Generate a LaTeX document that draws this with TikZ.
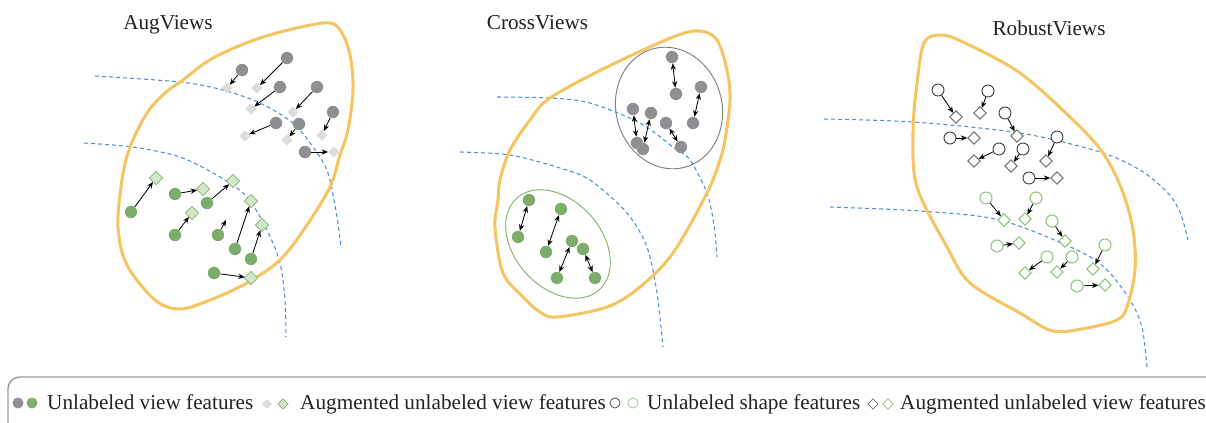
\documentclass[tikz,border=0pt]{standalone}
\usepackage{fontspec}
\setmainfont{Liberation Serif}
\usetikzlibrary{shapes.geometric,arrows.meta}
\definecolor{orng}{HTML}{F5C563}
\definecolor{bdash}{HTML}{4A90D9}
\definecolor{gcirc}{HTML}{8E8E93}
\definecolor{gdiam}{HTML}{DCDCDC}
\definecolor{grn}{HTML}{7DAD6B}
\definecolor{grnl}{HTML}{D3E7CC}
\definecolor{grnd}{HTML}{82B366}
\definecolor{grno}{HTML}{8BC47B}
\definecolor{txt}{HTML}{222222}
\begin{document}
\begin{tikzpicture}[x=0.03cm,y=-0.03cm,
 boundary/.style={draw=orng,line width=2.6pt},
 divide/.style={draw=bdash,line width=0.9pt,dash pattern=on 3.4pt off 2.6pt},
 gc/.style={circle,fill=gcirc,inner sep=0,minimum size=0.37cm},
 gd/.style={diamond,fill=gdiam,inner sep=0,minimum size=0.34cm},
 nc/.style={circle,fill=grn,inner sep=0,minimum size=0.37cm},
 nd/.style={diamond,fill=grnl,draw=grnd,line width=0.6pt,inner sep=0,minimum size=0.4cm},
 oc/.style={circle,draw=black!75,fill=white,line width=0.8pt,inner sep=0,minimum size=0.36cm},
 od/.style={diamond,draw=black!55,fill=white,line width=0.8pt,inner sep=0,minimum size=0.38cm},
 goc/.style={circle,draw=grno,fill=white,line width=0.9pt,inner sep=0,minimum size=0.36cm},
 god/.style={diamond,draw=grno,fill=white,line width=0.9pt,inner sep=0,minimum size=0.38cm},
 arr/.style={-{Stealth[length=5.5pt,width=4.5pt]},line width=0.7pt},
 darr/.style={{Stealth[length=5.5pt,width=4.5pt]}-{Stealth[length=5.5pt,width=4.5pt]},line width=0.7pt},
 ttl/.style={font=\fontsize{18.1}{20}\selectfont,text=txt,inner sep=0,anchor=base},
 lg/.style={font=\fontsize{18.1}{20}\selectfont,text=txt,inner sep=0,anchor=base west},
]
\useasboundingbox (0,0) rectangle (1206,423);
\clip (0,0) rectangle (1206,423);

% titles
\node[ttl] (t1) at (168,30) {AugViews};
\node[ttl] (t2) at (537.5,29.5) {CrossViews};
\node[ttl] (t3) at (1049,36) {RobustViews};

% dashed dividers
\draw[divide] plot[smooth] coordinates {(95,76) (180,82) (223,90) (260,103) (293,123) (313,147) (328,173) (337,217) (341,248)};
\draw[divide] plot[smooth] coordinates {(84,143) (133,147) (180,157) (220,177) (247,197) (267,230) (280,263) (285,300) (286,337)};
\draw[divide] plot[smooth] coordinates {(497,97) (550,98) (590,103) (640,123) (673,147) (690,160) (707,193) (714,225) (717,257)};
\draw[divide] plot[smooth] coordinates {(460,152) (510,155) (560,168) (590,180) (627,213) (647,247) (657,293) (663,347)};
\draw[divide] plot[smooth] coordinates {(824,119) (913,122) (1020,133) (1100,152) (1140,170) (1167,192) (1180,212) (1188,240)};
\draw[divide] plot[smooth] coordinates {(830,207) (920,211) (1000,220) (1077,250) (1107,270) (1130,300) (1142,327) (1147,367)};

% orange boundaries
\draw[boundary] plot[smooth cycle,tension=0.55] coordinates {(122,180) (130,147) (147,113) (165,93) (183,80) (213,58) (263,37) (323,23) (340,30) (350,55) (353,90) (348,130) (340,155) (330,187) (305,228) (280,260) (247,283) (210,300) (180,309) (155,300) (127,265) (118,227)};
\draw[boundary] plot[smooth cycle,tension=0.55] coordinates {(500,180) (510,150) (530,120) (550,98) (607,67) (673,37) (700,31) (717,40) (727,70) (730,100) (725,140) (720,160) (707,193) (673,253) (640,287) (607,307) (557,317) (540,312) (523,297) (503,273) (495,227) (498,200)};
\draw[boundary] plot[smooth cycle,tension=0.55] coordinates {(924,43) (940,35) (963,42) (1020,73) (1073,120) (1103,153) (1122,190) (1133,230) (1135,270) (1127,307) (1117,320) (1087,328) (1053,331) (1020,313) (970,283) (947,247) (917,187) (913,133) (917,83)};

% ellipses in CrossViews
\draw[draw=black!50,line width=0.8pt,rotate around={15:(669,108)}] (669,108) ellipse [x radius=1.59cm, y radius=1.84cm];
\draw[draw=grnd,line width=0.8pt,rotate around={-48:(558,244)}] (558,244) ellipse [x radius=1.85cm, y radius=1.3cm];

% AugViews gray
\node[gc] (ag1) at (242,70) {};  \node[gd] (agd1) at (227,88) {};
\node[gc] (ag2) at (287,58) {};  \node[gd] (agd2) at (257,88) {};
\node[gc] (ag3) at (280,87) {};  \node[gd] (agd3) at (251,109) {};
\node[gc] (ag4) at (317,87) {};  \node[gd] (agd4) at (293,112) {};
\node[gc] (ag5) at (333,112) {}; \node[gd] (agd5) at (322,135) {};
\node[gc] (ag6) at (276,123) {}; \node[gd] (agd6) at (245,136) {};
\node[gc] (ag7) at (299,124) {}; \node[gd] (agd7) at (287,140) {};
\node[gc] (ag8) at (305,152) {}; \node[gd] (agd8) at (334,152) {};
\foreach \i in {1,...,8} \draw[arr] (ag\i) -- (agd\i);

% AugViews green
\node[nc] (an1) at (131,212) {}; \node[nd] (and1) at (156,178) {};
\node[nc] (an2) at (175,194) {}; \node[nd] (and2) at (203,189) {};
\node[nc] (an3) at (207,203) {}; \node[nd] (and3) at (233,181) {};
\node[nc] (an4) at (175,235) {}; \node[nd] (and4) at (192,213) {};
\node[nc] (an5) at (218,235) {}; \coordinate (and5) at (226,220);
\node[nc] (an6) at (235,249) {}; \node[nd] (and6) at (251,201) {};
\node[nc] (an7) at (251,259) {}; \node[nd] (and7) at (262,225) {};
\node[nc] (an8) at (214,273) {}; \node[nd] (and8) at (251,278) {};
\foreach \i in {1,...,8} \draw[arr] (an\i) -- (and\i);

% CrossViews gray
\node[gc] (cg1) at (672,57) {};  \node[gc] (cg2) at (676,94) {};
\node[gc] (cg3) at (701,87) {};  \node[gc] (cg4) at (693,123) {};
\node[gc] (cg5) at (633,109) {}; \node[gc] (cg6) at (637,143) {};
\node[gc] (cg7) at (651,113) {}; \node[gc] (cg8) at (643,149) {};
\node[gc] (cg9) at (666,123) {}; \node[gc] (cg10) at (681,147) {};
\draw[darr] (cg1) -- (cg2);
\draw[darr] (cg3) -- (cg4);
\draw[darr] (cg5) -- (cg6);
\draw[darr] (cg7) -- (cg8);
\draw[darr] (cg9) -- (cg10);

% CrossViews green
\node[nc] (cn1) at (529,200) {}; \node[nc] (cn2) at (518,237) {};
\node[nc] (cn3) at (561,209) {}; \node[nc] (cn4) at (546,252) {};
\node[nc] (cn5) at (572,241) {}; \node[nc] (cn6) at (557,278) {};
\node[nc] (cn7) at (583,249) {}; \node[nc] (cn8) at (595,278) {};
\draw[darr] (cn1) -- (cn2);
\draw[darr] (cn3) -- (cn4);
\draw[darr] (cn5) -- (cn6);
\draw[darr] (cn7) -- (cn8);

% RobustViews dark
\node[oc] (ro1) at (938,90) {};  \node[od] (rd1) at (956,117) {};
\node[oc] (ro2) at (988,91) {};  \node[od] (rd2) at (980,113) {};
\node[oc] (ro3) at (1005,113) {}; \node[od] (rd3) at (1017,136) {};
\node[oc] (ro4) at (950,138) {}; \node[od] (rd4) at (974,138) {};
\node[oc] (ro5) at (999,149) {}; \node[od] (rd5) at (974,161) {};
\node[oc] (ro6) at (1023,149) {}; \node[od] (rd6) at (1011,166) {};
\node[oc] (ro7) at (1057,137) {}; \node[od] (rd7) at (1046,161) {};
\node[oc] (ro8) at (1029,178) {}; \node[od] (rd8) at (1057,178) {};
\foreach \i in {1,...,8} \draw[arr] (ro\i) -- (rd\i);

% RobustViews green
\node[goc] (rs1) at (986,198) {};  \node[god] (rsd1) at (1004,220) {};
\node[goc] (rs2) at (1036,198) {}; \node[god] (rsd2) at (1025,219) {};
\node[goc] (rs3) at (1052,221) {}; \node[god] (rsd3) at (1065,241) {};
\node[goc] (rs4) at (997,246) {};  \node[god] (rsd4) at (1019,243) {};
\node[goc] (rs5) at (1047,257) {}; \node[god] (rsd5) at (1025,273) {};
\node[goc] (rs6) at (1072,257) {}; \node[god] (rsd6) at (1057,272) {};
\node[goc] (rs7) at (1105,245) {}; \node[god] (rsd7) at (1093,269) {};
\node[goc] (rs8) at (1077,286) {}; \node[god] (rsd8) at (1105,285) {};
\foreach \i in {1,...,8} \draw[arr] (rs\i) -- (rsd\i);

% legend
\draw[draw=black!40,line width=1.2pt,rounded corners=10pt] (8,450) -- (8,377) -- (1240,377);
\node[gc,minimum size=0.33cm] (l1) at (18,403) {};
\node[nc,minimum size=0.33cm] (l2) at (32,403) {};
\node[lg] (lt1) at (47,409) {Unlabeled view features};
\node[gd,minimum size=0.3cm] (l3) at (267,404) {};
\node[nd,minimum size=0.32cm] (l4) at (283,404) {};
\node[lg] (lt2) at (300,409) {Augmented unlabeled view features};
\node[oc,minimum size=0.3cm,line width=0.6pt] (l5) at (615,403) {};
\node[goc,minimum size=0.3cm,line width=0.6pt] (l6) at (633,403) {};
\node[lg] (lt3) at (647,409) {Unlabeled shape features};
\node[od,minimum size=0.32cm,line width=0.6pt] (l7) at (873,404) {};
\node[god,minimum size=0.32cm,line width=0.6pt] (l8) at (888,404) {};
\node[lg] (lt4) at (900,409) {Augmented unlabeled view features};
\end{tikzpicture}
\end{document}
